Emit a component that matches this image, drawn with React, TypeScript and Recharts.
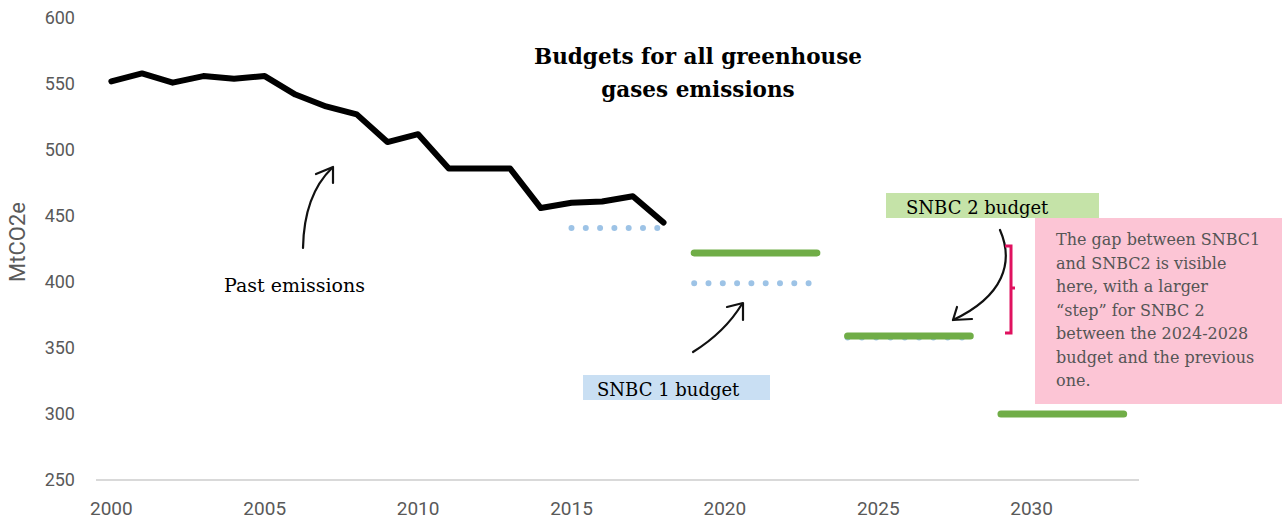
import * as React from "react";
import { Line, LineChart, XAxis, YAxis } from "recharts";

// ---- data ----
const pastYears = [2000, 2001, 2002, 2003, 2004, 2005, 2006, 2007, 2008, 2009, 2010, 2011, 2012, 2013, 2014, 2015, 2016, 2017, 2018];
const pastEmissions = [552, 558, 551, 556, 554, 556, 542, 533, 527, 506, 512, 486, 486, 486, 456, 460, 461, 465, 445];

const budgetPeriods = [
    [2015, 2018],
    [2019, 2023],
    [2024, 2028],
    [2029, 2033],
];
const snbc1Budgets = [441, 399, 358, null];
const snbc2Budgets = [null, 422, 359, 300];

const xTicks = [2000, 2005, 2010, 2015, 2020, 2025, 2030];
const yTicks = [250, 300, 350, 400, 450, 500, 550, 600];

const pastData = pastYears.map((year, i) => ({ year, value: pastEmissions[i] }));

function segments(values: (number | null)[]) {
    return budgetPeriods
        .map(([start, end], i) => (values[i] == null ? null : [
            { year: start, value: values[i] },
            { year: end, value: values[i] },
        ]))
        .filter(Boolean) as { year: number; value: number }[][];
}

const snbc1Segments = segments(snbc1Budgets);
const snbc2Segments = segments(snbc2Budgets);

const serif = "'DejaVu Serif', serif";
const axisFont = "Roboto, 'Open Sans', sans-serif";

export default function App() {
    return (
        <div style={{ position: "absolute", left: 0, top: 0, width: 1282, height: 520, background: "#fff", overflow: "hidden" }}>
            <LineChart width={1282} height={520} margin={{ top: 18, right: 143, left: 36, bottom: 0 }}>
                <XAxis
                    type="number"
                    dataKey="year"
                    domain={[1999.5, 2033.5]}
                    ticks={xTicks}
                    allowDataOverflow
                    height={40}
                    tickLine={false}
                    tickMargin={16}
                    axisLine={{ stroke: "#d9d9d9", strokeWidth: 2 }}
                    tick={{ fill: "#595959", fontSize: 19, fontFamily: axisFont }}
                />
                <YAxis
                    type="number"
                    domain={[250, 600]}
                    ticks={yTicks}
                    width={60}
                    axisLine={false}
                    tickLine={false}
                    tickMargin={15}
                    tick={{ fill: "#595959", fontSize: 18, fontFamily: axisFont }}
                />
                {snbc1Segments.map((seg, i) => (
                    <Line
                        key={"s1-" + i}
                        data={seg}
                        dataKey="value"
                        stroke="#9dc3e6"
                        strokeWidth={6}
                        strokeDasharray="0 14.3"
                        strokeLinecap="round"
                        dot={false}
                        activeDot={false}
                        isAnimationActive={false}
                    />
                ))}
                {snbc2Segments.map((seg, i) => (
                    <Line
                        key={"s2-" + i}
                        data={seg}
                        dataKey="value"
                        stroke="#70ad47"
                        strokeWidth={7}
                        strokeLinecap="round"
                        dot={false}
                        activeDot={false}
                        isAnimationActive={false}
                    />
                ))}
                <Line
                    data={pastData}
                    dataKey="value"
                    stroke="#000"
                    strokeWidth={6}
                    strokeLinejoin="round"
                    strokeLinecap="round"
                    dot={false}
                    activeDot={false}
                    isAnimationActive={false}
                />
            </LineChart>

            {/* annotations */}
            <svg width={1282} height={520} style={{ position: "absolute", left: 0, top: 0, pointerEvents: "none" }}>
                <text
                    x={19}
                    y={242}
                    transform="rotate(-90 19 242)"
                    textAnchor="middle"
                    dominantBaseline="middle"
                    fill="#595959"
                    fontSize={22}
                    fontFamily={axisFont}
                >
                    MtCO2e
                </text>
                <g fill="none" stroke="#111" strokeWidth={2.2} strokeLinecap="round" strokeLinejoin="round">
                    <path d="M303,248 Q304,195 332,168" />
                    <path d="M316,174 L333,167 L333,183" />
                    <path d="M693,352 Q725,332 742,304" />
                    <path d="M727,307 L743,303 L743,320" />
                    <path d="M1000,230 C1014,262 1004,296 953,320" />
                    <path d="M957,307 L953,320 L972,319" />
                </g>
                <g fill="none" stroke="#e0115f" strokeWidth={3}>
                    <path d="M1005,246 L1011,246 L1011,333 L1005,333" />
                    <path d="M1011,288 L1015,288" />
                </g>
            </svg>

            <div style={{ position: "absolute", left: 0, top: 0, width: 1282, height: 520, pointerEvents: "none" }}>
                <div
                    style={{
                        position: "absolute",
                        left: 498,
                        top: 40,
                        width: 400,
                        textAlign: "center",
                        fontFamily: serif,
                        fontWeight: "bold",
                        fontSize: 21.5,
                        lineHeight: "33px",
                        color: "#000",
                    }}
                >
                    Budgets for all greenhouse
                    <br />
                    gases emissions
                </div>
                <div style={{ position: "absolute", left: 224, top: 274, fontFamily: serif, fontSize: 19, color: "#000", whiteSpace: "nowrap" }}>
                    Past emissions
                </div>
                <div
                    style={{
                        position: "absolute",
                        left: 583,
                        top: 375,
                        width: 187,
                        height: 25,
                        background: "#c9dff3",
                        overflow: "hidden",
                        boxSizing: "border-box",
                        paddingLeft: 14,
                        fontFamily: serif,
                        fontSize: 18,
                        lineHeight: "30px",
                        color: "#000",
                        whiteSpace: "nowrap",
                    }}
                >
                    SNBC 1 budget
                </div>
                <div
                    style={{
                        position: "absolute",
                        left: 886,
                        top: 193,
                        width: 213,
                        height: 25,
                        background: "#c5e3a8",
                        overflow: "hidden",
                        boxSizing: "border-box",
                        paddingLeft: 20,
                        fontFamily: serif,
                        fontSize: 18,
                        lineHeight: "30px",
                        color: "#000",
                        whiteSpace: "nowrap",
                    }}
                >
                    SNBC 2 budget
                </div>
                <div
                    style={{
                        position: "absolute",
                        left: 1035,
                        top: 218,
                        width: 247,
                        height: 186,
                        background: "#fcc5d5",
                        boxSizing: "border-box",
                        padding: "10px 8px 0 21px",
                        fontFamily: serif,
                        fontSize: 16,
                        lineHeight: "23.5px",
                        color: "#555",
                    }}
                >
                    The gap between SNBC1
                    <br />
                    and SNBC2 is visible
                    <br />
                    here, with a larger
                    <br />
                    “step” for SNBC 2
                    <br />
                    between the 2024-2028
                    <br />
                    budget and the previous
                    <br />
                    one.
                </div>
            </div>
        </div>
    );
}
